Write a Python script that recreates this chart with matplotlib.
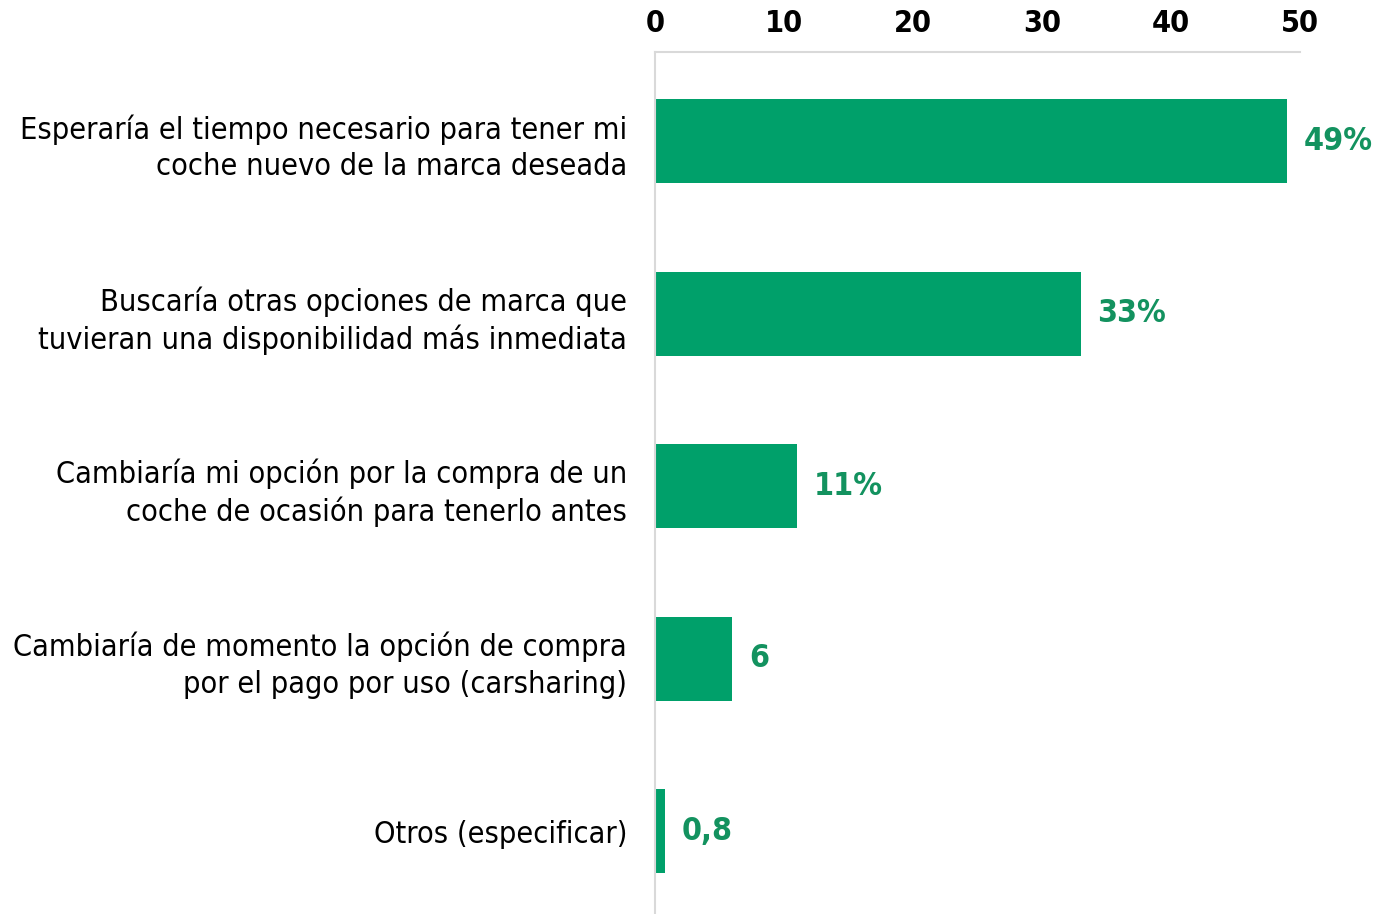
import matplotlib.pyplot as plt

categories = [
    "Esperaría el tiempo necesario para tener mi\ncoche nuevo de la marca deseada",
    "Buscaría otras opciones de marca que\ntuvieran una disponibilidad más inmediata",
    "Cambiaría mi opción por la compra de un\ncoche de ocasión para tenerlo antes",
    "Cambiaría de momento la opción de compra\npor el pago por uso (carsharing)",
    "Otros (especificar)",
]
values = [49, 33, 11, 6, 0.8]
value_labels = ["49%", "33%", "11%", "6", "0,8"]
xticks = [0, 10, 20, 30, 40, 50]

bar_color = "#00A06A"
label_color = "#13925F"
grid_color = "#D9D9D9"

fig = plt.figure(figsize=(13.76, 9.14), dpi=100)
ax = fig.add_axes([0.476, 0.0, 0.9448 - 0.476, 0.943])

ypos = list(range(len(values)))
ax.barh(ypos, values, height=0.487, color=bar_color)

for y, v, lab in zip(ypos, values, value_labels):
    ax.annotate(lab, (v, y), xytext=(12, 0), textcoords="offset points",
                va="center", ha="left", fontsize=23, color=label_color,
                fontweight="bold", fontstretch="condensed")

ax.set_xlim(0, 50)
ax.set_ylim(4.48, -0.516)
ax.xaxis.tick_top()
ax.set_xticks(xticks)
ax.set_xticklabels([str(t) for t in xticks], fontsize=22, fontweight="bold",
                   fontstretch="condensed")
ax.set_yticks(ypos)
ax.set_yticklabels(categories, fontsize=22, fontstretch="condensed",
                   linespacing=1.32)
ax.tick_params(axis="both", length=0)
ax.tick_params(axis="x", pad=10)
ax.tick_params(axis="y", pad=20)

for s in ["right", "bottom"]:
    ax.spines[s].set_visible(False)
ax.spines["top"].set_color(grid_color)
ax.spines["left"].set_color(grid_color)
ax.spines["top"].set_linewidth(1.5)
ax.spines["left"].set_linewidth(1.5)

fig.savefig("out.png", dpi=100)
